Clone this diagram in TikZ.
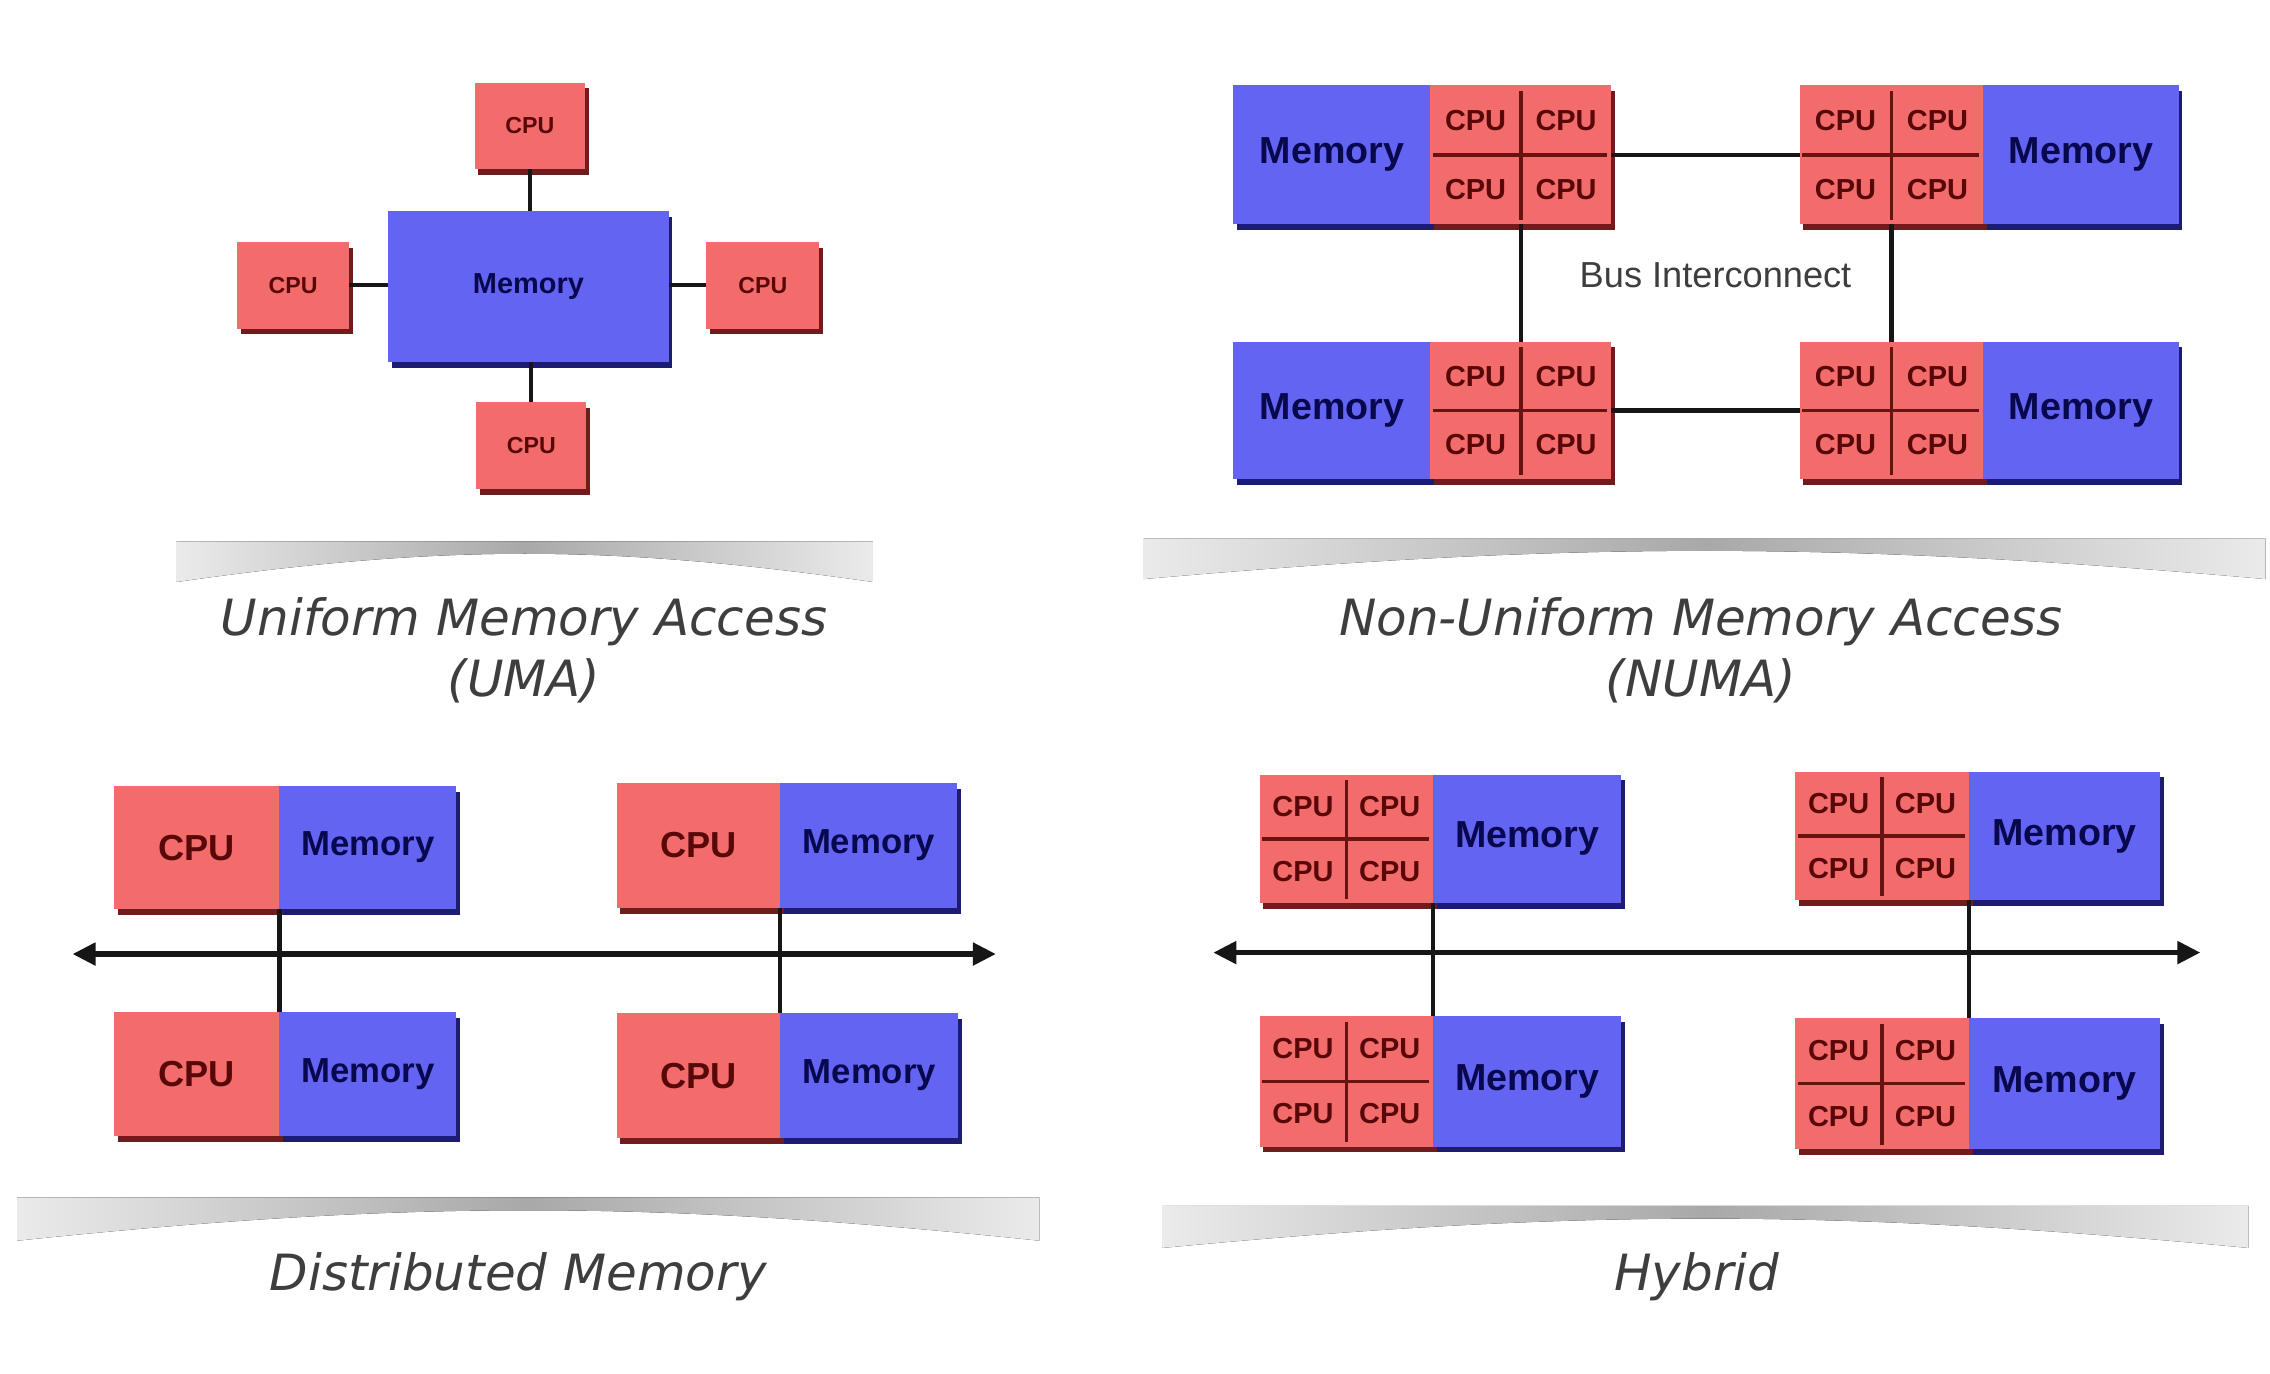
\documentclass[tikz,border=0pt]{standalone}
\usepackage{fontspec}
\setmainfont{Liberation Sans}
\newfontfamily\capfont{DejaVu Sans}
\usetikzlibrary{shadows,arrows.meta,calc}
\definecolor{cpuF}{RGB}{242,108,108}
\definecolor{cpuS}{RGB}{112,28,28}
\definecolor{cpuT}{RGB}{88,8,8}
\definecolor{memF}{RGB}{100,100,242}
\definecolor{memS}{RGB}{28,28,112}
\definecolor{memT}{RGB}{8,8,78}
\definecolor{capC}{RGB}{62,62,62}
\definecolor{lineC}{RGB}{22,22,22}
\definecolor{gridC}{RGB}{105,18,18}
\tikzset{
  cpubox/.style={fill=cpuF, inner sep=0pt, outer sep=0pt, text=cpuT,
    general shadow={fill=cpuS, shadow xshift=2.5pt, shadow yshift=-4pt}},
  membox/.style={fill=memF, inner sep=0pt, outer sep=0pt, text=memT,
    general shadow={fill=memS, shadow xshift=2.5pt, shadow yshift=-4pt}},
  cputxt/.style={text=cpuT, inner sep=0pt},
  conn/.style={draw=lineC, line width=3pt},
  grid/.style={draw=gridC, line width=2.5pt},
  bus/.style={draw=lineC, line width=4pt, {Triangle[length=16pt,width=15pt]}-{Triangle[length=16pt,width=15pt]}},
  captxt/.style={text=capC, align=center, inner sep=0pt, font=\capfont\itshape\fontsize{34.5}{42}\selectfont},
  bustxt/.style={text=capC, inner sep=0pt, font=\fontsize{25}{25}\selectfont},
  shelf/.style={left color=gray!16, right color=gray!16, middle color=gray!68}
}
% block by corners: [style]{name}{x1}{y1}{x2}{y2}{fontsize}{text}
\newcommand\blk[8][]{%
  \node[#1, minimum width={(#5-#3)*1pt}, minimum height={(#6-#4)*1pt},
    font=\bfseries\fontsize{#7}{#7}\selectfont]
    (#2) at ({(#3+#5)/2},{(#4+#6)/2}) {#8};}
% quad CPU block: {name}{x1}{y1}{x2}{y2}{fontsize}
\newcommand\cpuquad[6]{%
  \blk[cpubox]{#1}{#2}{#3}{#4}{#5}{#6}{}
  \draw[grid] ([yshift=-4pt]#1.north) -- ([yshift=3pt]#1.south);
  \draw[grid] ([xshift=2pt]#1.west) -- ([xshift=-3pt]#1.east);
  \node[cputxt, font=\bfseries\fontsize{#6}{#6}\selectfont] (#1a) at ($(#1.center)!0.5!(#1.north west)$) {CPU};
  \node[cputxt, font=\bfseries\fontsize{#6}{#6}\selectfont] (#1b) at ($(#1.center)!0.5!(#1.north east)$) {CPU};
  \node[cputxt, font=\bfseries\fontsize{#6}{#6}\selectfont] (#1c) at ($(#1.center)!0.5!(#1.south west)$) {CPU};
  \node[cputxt, font=\bfseries\fontsize{#6}{#6}\selectfont] (#1d) at ($(#1.center)!0.5!(#1.south east)$) {CPU};}
% shelf: {x1}{x2}{top}{bottom}
\newcommand\shelfbar[4]{%
  \fill[shelf] (#1,#3) -- (#2,#3) -- (#2,#4)
    .. controls ({#1+0.62*(#2-#1)},{#3+2}) and ({#1+0.38*(#2-#1)},{#3+2}) .. (#1,#4) -- cycle;}
\begin{document}
\begin{tikzpicture}[x=1pt,y=-1pt]
\fill[white] (0,0) rectangle (1568,949);
\useasboundingbox (0,0) rectangle (1568,949);

% ---------------- UMA ----------------
\blk[membox]{umaM}{268}{146}{462}{250}{20}{Memory}
\blk[cpubox]{umaT}{328}{57}{404}{117}{16}{CPU}
\blk[cpubox]{umaL}{164}{167}{241}{227}{16}{CPU}
\blk[cpubox]{umaR}{488}{167}{566}{227}{16}{CPU}
\blk[cpubox]{umaB}{329}{278}{405}{338}{16}{CPU}
\draw[conn] (umaT.south) -- (umaT.south |- umaM.north);
\draw[conn] (umaB.north) -- (umaB.north |- umaM.south);
\draw[conn] (umaL.east) -- (umaL.east -| umaM.west);
\draw[conn] (umaR.west) -- (umaR.west -| umaM.east);
\shelfbar{122}{603}{374}{402}
\node[captxt] (umaCap) at (362,449) {Uniform Memory Access\\(UMA)};

% ---------------- NUMA ----------------
\blk[membox]{nTLm}{852}{59}{988}{155}{26}{Memory}
\cpuquad{nTLc}{988}{59}{1113}{155}{20}
\cpuquad{nTRc}{1243}{59}{1370}{155}{20}
\blk[membox]{nTRm}{1370}{59}{1505}{155}{26}{Memory}
\blk[membox]{nBLm}{852}{236}{988}{331}{26}{Memory}
\cpuquad{nBLc}{988}{236}{1113}{331}{20}
\cpuquad{nBRc}{1243}{236}{1370}{331}{20}
\blk[membox]{nBRm}{1370}{236}{1505}{331}{26}{Memory}
\draw[conn] (nTLc.east) -- (nTRc.west);
\draw[conn] (nBLc.east) -- (nBRc.west);
\draw[conn] (nTLc.south) -- (nBLc.north);
\draw[conn] (nTRc.south) -- (nBRc.north);
\node[bustxt] (busLbl) at (1185,190) {Bus Interconnect};
\shelfbar{790}{1565}{372}{400}
\node[captxt] (numaCap) at (1175,449) {Non-Uniform Memory Access\\(NUMA)};

% ---------------- Distributed ----------------
\blk[cpubox]{dTLc}{79}{543}{193}{628}{25}{CPU}
\blk[membox]{dTLm}{193}{543}{315}{628}{24}{Memory}
\blk[cpubox]{dTRc}{426}{541}{539}{627}{25}{CPU}
\blk[membox]{dTRm}{539}{541}{661}{627}{24}{Memory}
\blk[cpubox]{dBLc}{79}{699}{193}{785}{25}{CPU}
\blk[membox]{dBLm}{193}{699}{315}{785}{24}{Memory}
\blk[cpubox]{dBRc}{426}{700}{539}{786}{25}{CPU}
\blk[membox]{dBRm}{539}{700}{662}{786}{24}{Memory}
\coordinate (dBusL) at (50,659);
\coordinate (dBusR) at (688,659);
\draw[conn] (dTLc.south east) -- (dBLc.north east);
\draw[conn] (dTRc.south east) -- (dBRc.north east);
\draw[bus] (dBusL) -- (dBusR);
\shelfbar{12}{718}{827}{857}
\node[captxt] (distCap) at (358,882) {Distributed Memory};

% ---------------- Hybrid ----------------
\cpuquad{hTLc}{870}{535}{990}{624}{20}
\blk[membox]{hTLm}{990}{535}{1120}{624}{26}{Memory}
\cpuquad{hTRc}{1240}{533}{1360}{622}{20}
\blk[membox]{hTRm}{1360}{533}{1492}{622}{26}{Memory}
\cpuquad{hBLc}{870}{702}{990}{792}{20}
\blk[membox]{hBLm}{990}{702}{1120}{792}{26}{Memory}
\cpuquad{hBRc}{1240}{703}{1360}{794}{20}
\blk[membox]{hBRm}{1360}{703}{1492}{794}{26}{Memory}
\coordinate (hBusL) at (838,658);
\coordinate (hBusR) at (1520,658);
\draw[conn] (hTLc.south east) -- (hBLc.north east);
\draw[conn] (hTRc.south east) -- (hBRc.north east);
\draw[bus] (hBusL) -- (hBusR);
\shelfbar{803}{1553}{833}{862}
\node[captxt] (hybCap) at (1172,882) {Hybrid};
\end{tikzpicture}
\end{document}
